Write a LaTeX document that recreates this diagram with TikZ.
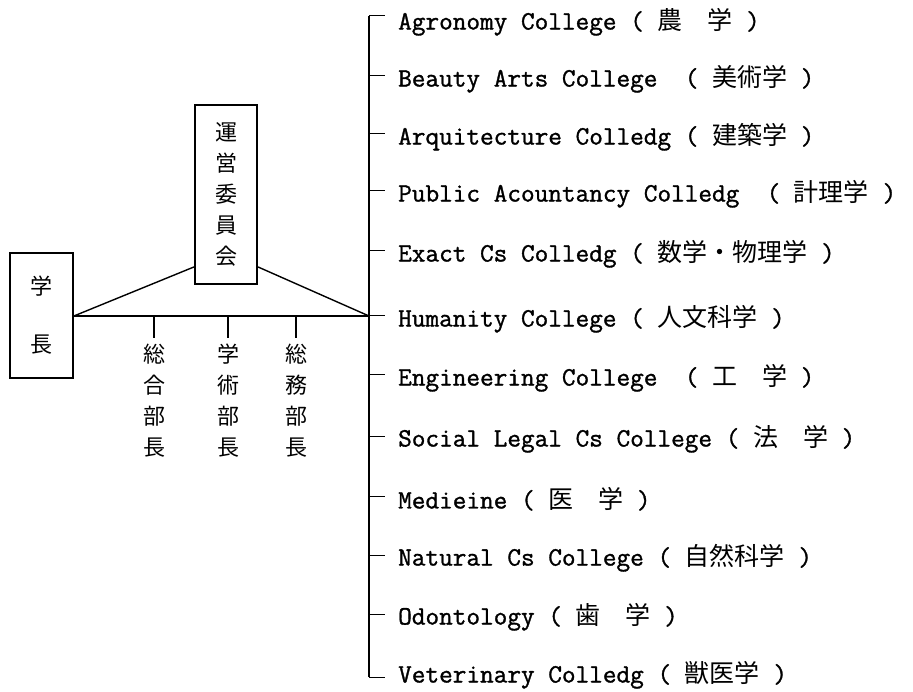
\documentclass[tikz,border=0pt]{standalone}
\usepackage{fontspec}
\newfontfamily\jp{Noto Sans CJK JP}
\newfontfamily\mono{Latin Modern Mono}[FakeBold=1.2]
\newcommand\cj[1]{{\jp\fontsize{25}{25}\selectfont #1}}
\begin{document}
\begin{tikzpicture}[x=1pt,y=-1pt,
  box/.style={draw,line width=1.8pt,inner sep=0pt,align=center},
  vtext/.style={font=\jp\fontsize{22}{31}\selectfont,align=center,inner sep=0pt},
  college/.style={anchor=west,inner sep=0pt,font=\mono\fontsize{26.5}{30}\selectfont},
  conn/.style={line width=1.4pt},
  spine/.style={line width=1.8pt},
  tickline/.style={line width=1pt,shorten >=13pt}]
\useasboundingbox (0,0) rectangle (913,692);

% president and committee
\node[box,minimum width=63pt,minimum height=125pt,font=\jp\fontsize{22}{58}\selectfont] (pres) at (41.5,315.5) {学\\長};
\node[box,minimum width=62pt,minimum height=179pt,font=\jp\fontsize{22}{31}\selectfont] (com) at (226,194.5) {運\\営\\委\\員\\会};

% departments
\node[vtext] (d1) at (154,400.5) {総\\合\\部\\長};
\node[vtext] (d2) at (228,400.5) {学\\術\\部\\長};
\node[vtext] (d3) at (296,400.5) {総\\務\\部\\長};

% colleges
\node[college] (c1)  at (398,22)  {Agronomy College ( \cj{農　学} )};
\node[college] (c2)  at (398,79)  {Beauty Arts College\ \ ( \cj{美術学} )};
\node[college] (c3)  at (398,137) {Arquitecture Colledg ( \cj{建築学} )};
\node[college] (c4)  at (398,194) {Public Acountancy Colledg\ \ ( \cj{計理学} )};
\node[college] (c5)  at (398,254) {Exact Cs Colledg ( \cj{数学・物理学} )};
\node[college] (c6)  at (398,319) {Humanity College ( \cj{人文科学} )};
\node[college] (c7)  at (398,378) {Engineering College\ \ ( \cj{工　学} )};
\node[college] (c8)  at (398,439) {Social Legal Cs College ( \cj{法　学} )};
\node[college] (c9)  at (398,499) {Medieine ( \cj{医　学} )};
\node[college] (c10) at (398,558) {Natural Cs College ( \cj{自然科学} )};
\node[college] (c11) at (398,617) {Odontology ( \cj{歯　学} )};
\node[college] (c12) at (398,675) {Veterinary Colledg ( \cj{獣医学} )};

% spine coordinates
\coordinate (hub) at (369,316);
\coordinate (s1)  at (369,16);
\coordinate (s2)  at (369,76);
\coordinate (s3)  at (369,134);
\coordinate (s4)  at (369,191);
\coordinate (s5)  at (369,251);
\coordinate (s6)  at (hub);
\coordinate (s7)  at (369,375);
\coordinate (s8)  at (369,436);
\coordinate (s9)  at (369,496);
\coordinate (s10) at (369,555);
\coordinate (s11) at (369,614);
\coordinate (s12) at (369,677);

\draw[spine] (s1) -- (s12);
\foreach \i in {1,...,12}{
  \draw[tickline] (s\i) -- (c\i.west |- s\i);
}

% connectors
\draw[conn] (pres.east |- hub) -- (hub);
\draw[conn] (pres.east |- hub) -- ([yshift=18pt]com.south west);
\draw[conn] ([yshift=18pt]com.south east) -- (hub);
\draw[conn] (d1 |- hub) -- ([yshift=6pt]d1.north);
\draw[conn] (d2 |- hub) -- ([yshift=6pt]d2.north);
\draw[conn] (d3 |- hub) -- ([yshift=6pt]d3.north);
\end{tikzpicture}
\end{document}
